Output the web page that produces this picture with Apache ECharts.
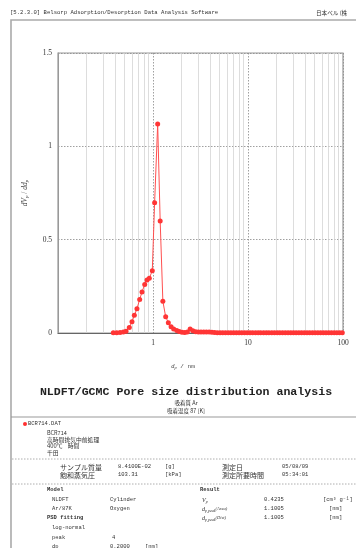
<!DOCTYPE html>
<html><head><meta charset="utf-8">
<script src="https://cdn.jsdelivr.net/npm/echarts@6/dist/echarts.min.js"></script>
<style>html,body{margin:0;padding:0;background:#fff}#c{width:356px;height:548px}</style>
</head><body><div id="c"></div>
<script>
// ---- data ----
const poreDiameter = [0.382,0.415,0.45,0.487,0.52,0.563,0.601,0.636,0.678,0.724,0.766,0.818,0.865,0.914,0.983,1.04,1.12,1.19,1.27,1.36,1.45,1.55,1.65,1.78,1.89,2.02,2.16,2.30,2.46,2.63,2.81,3.00,3.20,3.42,3.65,3.90,4.17,4.45,4.75,5.08,5.42,5.79,6.19,6.61,7.06,7.54,8.05,8.60,9.19,9.81,10.5,11.2,12.0,12.8,13.6,14.6,15.6,16.6,17.8,19.0,20.3,21.6,23.1,24.7,26.4,28.2,30.1,32.1,34.3,36.6,39.1,41.8,44.6,47.7,50.9,54.4,58.1,62.0,66.2,70.7,75.5,80.7,86.2,92.0,98.3];
const dVdd = [0.001,0.002,0.003,0.005,0.01,0.03,0.06,0.095,0.13,0.18,0.22,0.26,0.284,0.293,0.334,0.698,1.12,0.60,0.17,0.087,0.055,0.034,0.022,0.013,0.008,0.004,0.003,0.006,0.021,0.012,0.007,0.006,0.006,0.005,0.005,0.005,0.004,0.003,0.002,0.002,0.002,0.001,0.001,0.001,0.001,0.001,0.001,0.001,0.001,0.001,0.001,0.001,0.001,0.001,0.001,0.001,0.001,0.001,0.001,0.001,0.001,0.001,0.001,0.001,0.001,0.001,0.001,0.001,0.001,0.001,0.001,0.001,0.001,0.001,0.001,0.001,0.001,0.001,0.001,0.001,0.001,0.001,0.001,0.001,0.001];
const minorGridX = [0.2,0.3,0.4,0.5,0.6,0.7,0.8,0.9,2,3,4,5,6,7,8,9,20,30,40,50,60,70,80,90];
const yTicks = [0, 0.5, 1, 1.5];
const xTickLabels = [1, 10, 100];

const mono = '"Liberation Mono","DejaVu Sans Mono",monospace';
const jp = '"Noto Sans CJK JP","Liberation Mono",monospace';
const serif = '"Liberation Serif","DejaVu Serif",serif';

function T(x, y, text, opt) {
  opt = opt || {};
  return {type:'text', x:x, y:y, silent:true, style:Object.assign({text:text, fill:opt.fill||'#333', font:(opt.weight||'normal')+' '+(opt.size||6)+'px '+(opt.family||jp), textAlign:opt.align||'left', textVerticalAlign:'middle'}, opt.extra||{})};
}
const graphics = [
  T(10, 13, '[5.2.3.0] Belsorp Adsorption/Desorption Data Analysis Software', {size:5.6, family:mono}),
  T(316, 13, '日本ベル (株', {size:5.6}),
  {type:'rect', shape:{x:11, y:20, width:360, height:600}, silent:true, style:{fill:'none', stroke:'#aaa', lineWidth:1.6}},
  {type:'line', shape:{x1:11, y1:417, x2:356, y2:417}, silent:true, style:{stroke:'#999', lineWidth:1}},
  {type:'text', x:25, y:193, rotation:Math.PI/2, silent:true, style:{text:'{i|dV}{s|p}{n| / }{i|dd}{s|p}', textAlign:'center', textVerticalAlign:'middle', rich:{i:{font:'italic 7.5px '+serif, fill:'#444'}, s:{font:'italic 5px '+serif, fill:'#444', padding:[4,0,0,0]}, n:{font:'7.5px '+serif, fill:'#444'}}}},
  {type:'text', x:183, y:366, silent:true, style:{text:'{i|d}{s|p}{n| / nm}', textAlign:'center', textVerticalAlign:'middle', rich:{i:{font:'italic 6.5px '+serif, fill:'#444'}, s:{font:'italic 4.5px '+serif, fill:'#444', padding:[4,0,0,0]}, n:{font:'6px '+mono, fill:'#444'}}}},
  T(186, 392, 'NLDFT/GCMC Pore size distribution analysis', {size:11.6, family:mono, weight:'bold', align:'center', fill:'#222'}),
  T(186, 403, '吸着質 Ar', {size:5.5, align:'center'}),
  T(186, 411, '吸着温度 87 [K]', {size:5.5, align:'center'}),
  {type:'circle', shape:{cx:25, cy:424, r:2}, silent:true, style:{fill:'#ff3030'}},
  T(28, 424, 'BCR714.DAT', {size:5.5, family:mono}),
  T(47, 433, 'BCR714', {size:5.5}),
  T(47, 439.5, '高時間排気中前処理', {size:5.8}),
  T(47, 446, '400℃    時間', {size:5.8}),
  T(47, 452.5, '千田', {size:5.8}),
  {type:'line', shape:{x1:12, y1:459, x2:356, y2:459}, silent:true, style:{stroke:'#999', lineWidth:0.8, lineDash:[1.5,1.5]}},
  T(60, 467, 'サンプル質量', {size:7}),
  T(118, 467, '8.4100E-02', {size:5.5, family:mono}),
  T(165, 467, '[g]', {size:5.5, family:mono}),
  T(222, 467, '測定日', {size:7}),
  T(282, 467, '05/08/09', {size:5.5, family:mono}),
  T(60, 475, '飽和蒸気圧', {size:7}),
  T(118, 475, '103.31', {size:5.5, family:mono}),
  T(165, 475, '[kPa]', {size:5.5, family:mono}),
  T(222, 475, '測定所要時間', {size:7}),
  T(282, 475, '05:34:01', {size:5.5, family:mono}),
  {type:'line', shape:{x1:12, y1:484, x2:356, y2:484}, silent:true, style:{stroke:'#999', lineWidth:0.8, lineDash:[1.5,1.5]}},
  T(47, 490, 'Model', {size:5.5, family:mono, weight:'bold'}),
  T(200, 490, 'Result', {size:5.5, family:mono, weight:'bold'}),
  T(52, 500, 'NLDFT', {size:5.5, family:mono}),
  T(110, 500, 'Cylinder', {size:5.5, family:mono}),
  {type:'text', x:202, y:500, silent:true, style:{text:'{i|V}{s|p}', textVerticalAlign:'middle', rich:{i:{font:'italic 6px '+serif, fill:'#333'}, s:{font:'italic 4px '+serif, fill:'#333', padding:[3,0,0,0]}}}},
  T(264, 500, '0.4235', {size:5.5, family:mono}),
  T(323, 500, '[cm³ g⁻¹]', {size:5.5, family:mono}),
  T(52, 509, 'Ar/87K', {size:5.5, family:mono}),
  T(110, 509, 'Oxygen', {size:5.5, family:mono}),
  {type:'text', x:202, y:509, silent:true, style:{text:'{i|d}{s|p,peak}{n|(Area)}', textVerticalAlign:'middle', rich:{i:{font:'italic 6px '+serif, fill:'#333'}, s:{font:'italic 4px '+serif, fill:'#333', padding:[3,0,0,0]}, n:{font:'italic 4.5px '+serif, fill:'#333'}}}},
  T(264, 509, '1.1005', {size:5.5, family:mono}),
  T(329, 509, '[nm]', {size:5.5, family:mono}),
  T(47, 518, 'PSD fitting', {size:5.5, family:mono, weight:'bold'}),
  {type:'text', x:202, y:518, silent:true, style:{text:'{i|d}{s|p,peak}{n|(Dist)}', textVerticalAlign:'middle', rich:{i:{font:'italic 6px '+serif, fill:'#333'}, s:{font:'italic 4px '+serif, fill:'#333', padding:[3,0,0,0]}, n:{font:'italic 4.5px '+serif, fill:'#333'}}}},
  T(264, 518, '1.1005', {size:5.5, family:mono}),
  T(329, 518, '[nm]', {size:5.5, family:mono}),
  T(52, 528, 'log-normal', {size:5.5, family:mono}),
  T(52, 538, 'peak', {size:5.5, family:mono}),
  T(112, 538, '4', {size:5.5, family:mono}),
  T(52, 547, 'dp', {size:5.5, family:mono}),
  T(110, 547, '0.2000', {size:5.5, family:mono}),
  T(145, 547, '[nm]', {size:5.5, family:mono})
];

const chart = echarts.init(document.getElementById('c'), null, {renderer:'canvas'});
chart.setOption({
  animation:false,
  backgroundColor:'#fff',
  grid:{left:58, right:13, top:53, bottom:215, show:true, borderColor:'#999', borderWidth:1.2, backgroundColor:'transparent'},
  xAxis:{type:'log', logBase:10, min:0.1, max:100,
    axisLine:{show:true, onZero:false, lineStyle:{color:'#666', width:1}},
    axisTick:{show:false},
    axisLabel:{color:'#333', fontFamily:serif, fontSize:7.5, margin:6,
      formatter:function(v){ for (const t of xTickLabels) { if (Math.abs(v - t) < 1e-6 * t) return String(t); } return ''; }},
    splitLine:{show:true, lineStyle:{color:'#888', type:[1.5,1.5], width:0.8}},
    minorTick:{show:false}, minorSplitLine:{show:false}},
  yAxis:{type:'value', min:yTicks[0], max:yTicks[yTicks.length-1], interval:0.5,
    axisLine:{show:true, lineStyle:{color:'#999', width:1}},
    axisTick:{show:false},
    axisLabel:{color:'#333', fontFamily:serif, fontSize:7.5, margin:6},
    splitLine:{show:true, lineStyle:{color:'#888', type:[1.5,1.5], width:0.8}}},
  graphic:graphics,
  series:[{
    type:'line',
    data:poreDiameter.map((d,i)=>[d, dVdd[i]]),
    symbol:'circle', symbolSize:5, showSymbol:true,
    itemStyle:{color:'#ff3535'},
    lineStyle:{color:'#ff5050', width:1},
    clip:false,
    z:5,
    markLine:{silent:true, symbol:'none', label:{show:false}, animation:false,
      lineStyle:{color:'#d4d4d4', type:'solid', width:0.8},
      data:minorGridX.map(v=>({xAxis:v}))}
  }]
});
</script></body></html>
